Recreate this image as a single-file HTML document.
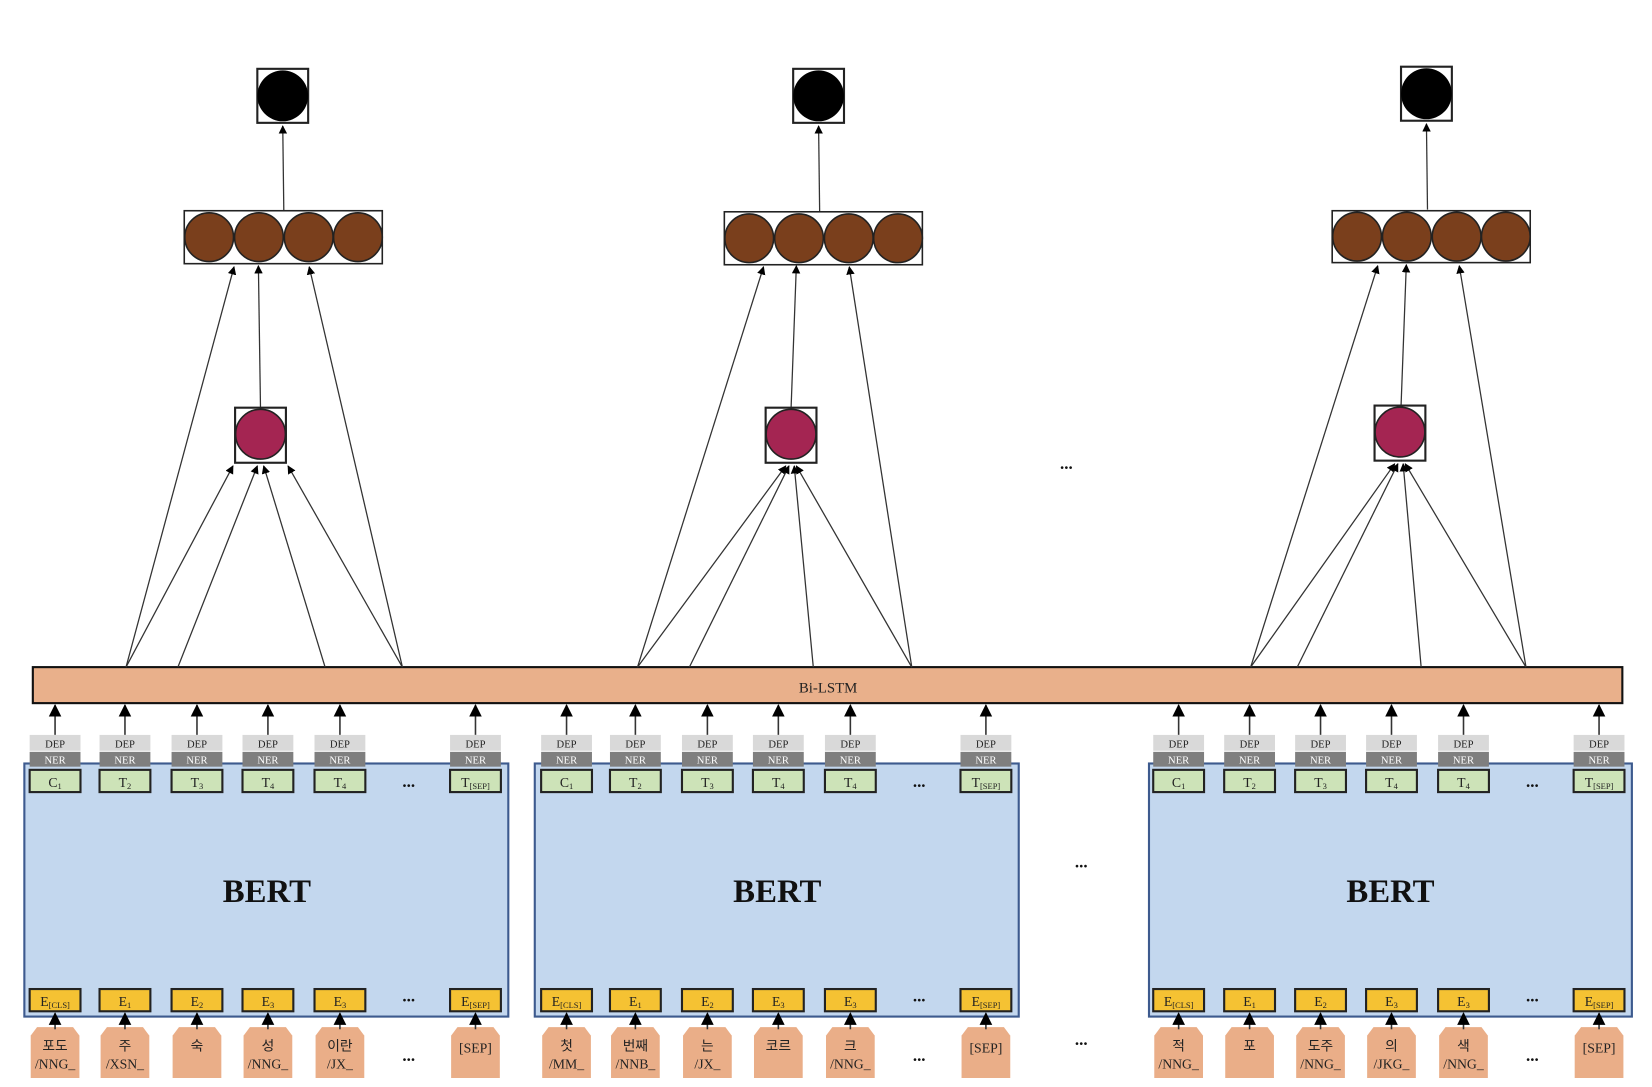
<!DOCTYPE html>
<html><head><meta charset="utf-8"><style>
html,body{margin:0;padding:0;background:#fff;}
svg{display:block;}
text{font-family:"Liberation Serif","Noto Serif CJK SC","Noto Sans CJK KR",serif;fill:#222;}
.s{font-size:10px;text-anchor:middle;}
.w{fill:#fff;}
.m{font-size:13px;text-anchor:middle;}
.k{font-family:"Liberation Serif","Noto Sans CJK KR",serif;font-size:13px;text-anchor:middle;}
.b{font-size:31px;font-weight:bold;text-anchor:middle;fill:#111;}
.d{font-size:16px;font-weight:bold;text-anchor:middle;fill:#111;}
</style></head><body>
<svg width="1652" height="1087" viewBox="0 0 1560 1026.5" preserveAspectRatio="none" xmlns="http://www.w3.org/2000/svg">
<defs>
<marker id="a" viewBox="0 0 10 10" refX="9" refY="5" markerWidth="8" markerHeight="8" orient="auto" markerUnits="userSpaceOnUse"><path d="M0,0L10,5L0,10Z" fill="#000"/></marker>
<marker id="A" viewBox="0 0 10 10" refX="9" refY="5" markerWidth="12" markerHeight="12" orient="auto" markerUnits="userSpaceOnUse"><path d="M0,0L10,5L0,10Z" fill="#000"/></marker>
<g id="col">
<line x1="0" y1="694" x2="0" y2="666" stroke="#333" stroke-width="1.5" marker-end="url(#A)"/>
<rect x="-24" y="694" width="48" height="15" fill="#d9d9d9"/>
<rect x="-24" y="710" width="48" height="14" fill="#7f7f7f"/>
<rect x="-24" y="727" width="48" height="21" fill="#cde3b8" stroke="#222" stroke-width="2"/>
<rect x="-24" y="934" width="48" height="21" fill="#f5c233" stroke="#222" stroke-width="2"/>
<path d="M-23,978L-17,970L17,970L23,978L23,1018L-23,1018Z" fill="#eaae88"/>
<line x1="0" y1="972" x2="0" y2="957" stroke="#333" stroke-width="1.5" marker-end="url(#A)"/>
</g>
<g id="top">
<rect x="-24" y="0" width="48" height="51" fill="#fff" stroke="#222" stroke-width="2"/>
<circle cx="0" cy="25.5" r="24" fill="#000"/>
</g>
</defs>

<!-- BERT boxes -->
<rect x="23" y="721" width="457" height="239" fill="#c3d7ee" stroke="#3d5a8e" stroke-width="2"/>
<rect x="505" y="721" width="457" height="239" fill="#c3d7ee" stroke="#3d5a8e" stroke-width="2"/>
<rect x="1085" y="721" width="456" height="239" fill="#c3d7ee" stroke="#3d5a8e" stroke-width="2"/>
<text class="b" x="252" y="852">BERT</text>
<text class="b" x="734" y="852">BERT</text>
<text class="b" x="1313" y="852">BERT</text>

<!-- Bi-LSTM -->
<rect x="31" y="630" width="1501" height="34" fill="#e9b08b" stroke="#111" stroke-width="2"/>
<text x="782" y="654" style="font-size:14px;text-anchor:middle;">Bi-LSTM</text>

<!-- columns -->
<use href="#col" x="52"/><use href="#col" x="118"/><use href="#col" x="186"/><use href="#col" x="253"/><use href="#col" x="321"/><use href="#col" x="449"/>
<use href="#col" x="535"/><use href="#col" x="600"/><use href="#col" x="668"/><use href="#col" x="735"/><use href="#col" x="803"/><use href="#col" x="931"/>
<use href="#col" x="1113"/><use href="#col" x="1180"/><use href="#col" x="1247"/><use href="#col" x="1314"/><use href="#col" x="1382"/><use href="#col" x="1510"/>

<!-- DEP/NER labels -->
<g class="s">
<text class="s" x="52" y="706">DEP</text><text class="s" x="118" y="706">DEP</text><text class="s" x="186" y="706">DEP</text><text class="s" x="253" y="706">DEP</text><text class="s" x="321" y="706">DEP</text><text class="s" x="449" y="706">DEP</text>
<text class="s" x="535" y="706">DEP</text><text class="s" x="600" y="706">DEP</text><text class="s" x="668" y="706">DEP</text><text class="s" x="735" y="706">DEP</text><text class="s" x="803" y="706">DEP</text><text class="s" x="931" y="706">DEP</text>
<text class="s" x="1113" y="706">DEP</text><text class="s" x="1180" y="706">DEP</text><text class="s" x="1247" y="706">DEP</text><text class="s" x="1314" y="706">DEP</text><text class="s" x="1382" y="706">DEP</text><text class="s" x="1510" y="706">DEP</text>
<text class="s w" x="52" y="721">NER</text><text class="s w" x="118" y="721">NER</text><text class="s w" x="186" y="721">NER</text><text class="s w" x="253" y="721">NER</text><text class="s w" x="321" y="721">NER</text><text class="s w" x="449" y="721">NER</text>
<text class="s w" x="535" y="721">NER</text><text class="s w" x="600" y="721">NER</text><text class="s w" x="668" y="721">NER</text><text class="s w" x="735" y="721">NER</text><text class="s w" x="803" y="721">NER</text><text class="s w" x="931" y="721">NER</text>
<text class="s w" x="1113" y="721">NER</text><text class="s w" x="1180" y="721">NER</text><text class="s w" x="1247" y="721">NER</text><text class="s w" x="1314" y="721">NER</text><text class="s w" x="1382" y="721">NER</text><text class="s w" x="1510" y="721">NER</text>
</g>

<!-- T labels -->
<text class="m" x="52" y="743">C<tspan font-size="8" dy="2">1</tspan></text><text class="m" x="118" y="743">T<tspan font-size="8" dy="2">2</tspan></text><text class="m" x="186" y="743">T<tspan font-size="8" dy="2">3</tspan></text><text class="m" x="253" y="743">T<tspan font-size="8" dy="2">4</tspan></text><text class="m" x="321" y="743">T<tspan font-size="8" dy="2">4</tspan></text><text class="m" x="449" y="743">T<tspan font-size="8" dy="2">[SEP]</tspan></text>
<text class="m" x="535" y="743">C<tspan font-size="8" dy="2">1</tspan></text><text class="m" x="600" y="743">T<tspan font-size="8" dy="2">2</tspan></text><text class="m" x="668" y="743">T<tspan font-size="8" dy="2">3</tspan></text><text class="m" x="735" y="743">T<tspan font-size="8" dy="2">4</tspan></text><text class="m" x="803" y="743">T<tspan font-size="8" dy="2">4</tspan></text><text class="m" x="931" y="743">T<tspan font-size="8" dy="2">[SEP]</tspan></text>
<text class="m" x="1113" y="743">C<tspan font-size="8" dy="2">1</tspan></text><text class="m" x="1180" y="743">T<tspan font-size="8" dy="2">2</tspan></text><text class="m" x="1247" y="743">T<tspan font-size="8" dy="2">3</tspan></text><text class="m" x="1314" y="743">T<tspan font-size="8" dy="2">4</tspan></text><text class="m" x="1382" y="743">T<tspan font-size="8" dy="2">4</tspan></text><text class="m" x="1510" y="743">T<tspan font-size="8" dy="2">[SEP]</tspan></text>

<!-- E labels -->
<text class="m" x="52" y="950">E<tspan font-size="8" dy="2">[CLS]</tspan></text><text class="m" x="118" y="950">E<tspan font-size="8" dy="2">1</tspan></text><text class="m" x="186" y="950">E<tspan font-size="8" dy="2">2</tspan></text><text class="m" x="253" y="950">E<tspan font-size="8" dy="2">3</tspan></text><text class="m" x="321" y="950">E<tspan font-size="8" dy="2">3</tspan></text><text class="m" x="449" y="950">E<tspan font-size="8" dy="2">[SEP]</tspan></text>
<text class="m" x="535" y="950">E<tspan font-size="8" dy="2">[CLS]</tspan></text><text class="m" x="600" y="950">E<tspan font-size="8" dy="2">1</tspan></text><text class="m" x="668" y="950">E<tspan font-size="8" dy="2">2</tspan></text><text class="m" x="735" y="950">E<tspan font-size="8" dy="2">3</tspan></text><text class="m" x="803" y="950">E<tspan font-size="8" dy="2">3</tspan></text><text class="m" x="931" y="950">E<tspan font-size="8" dy="2">[SEP]</tspan></text>
<text class="m" x="1113" y="950">E<tspan font-size="8" dy="2">[CLS]</tspan></text><text class="m" x="1180" y="950">E<tspan font-size="8" dy="2">1</tspan></text><text class="m" x="1247" y="950">E<tspan font-size="8" dy="2">2</tspan></text><text class="m" x="1314" y="950">E<tspan font-size="8" dy="2">3</tspan></text><text class="m" x="1382" y="950">E<tspan font-size="8" dy="2">3</tspan></text><text class="m" x="1510" y="950">E<tspan font-size="8" dy="2">[SEP]</tspan></text>

<!-- input tags -->
<text class="k" x="52" y="992">포도</text><text class="k" x="52" y="1009">/NNG_</text>
<text class="k" x="118" y="992">주</text><text class="k" x="118" y="1009">/XSN_</text>
<text class="k" x="186" y="992">숙</text>
<text class="k" x="253" y="992">성</text><text class="k" x="253" y="1009">/NNG_</text>
<text class="k" x="321" y="992">이란</text><text class="k" x="321" y="1009">/JX_</text>
<text class="k" x="449" y="994">[SEP]</text>
<text class="k" x="535" y="992">첫</text><text class="k" x="535" y="1009">/MM_</text>
<text class="k" x="600" y="992">번째</text><text class="k" x="600" y="1009">/NNB_</text>
<text class="k" x="668" y="992">는</text><text class="k" x="668" y="1009">/JX_</text>
<text class="k" x="735" y="992">코르</text>
<text class="k" x="803" y="992">크</text><text class="k" x="803" y="1009">/NNG_</text>
<text class="k" x="931" y="994">[SEP]</text>
<text class="k" x="1113" y="992">적</text><text class="k" x="1113" y="1009">/NNG_</text>
<text class="k" x="1180" y="992">포</text>
<text class="k" x="1247" y="992">도주</text><text class="k" x="1247" y="1009">/NNG_</text>
<text class="k" x="1314" y="992">의</text><text class="k" x="1314" y="1009">/JKG_</text>
<text class="k" x="1382" y="992">색</text><text class="k" x="1382" y="1009">/NNG_</text>
<text class="k" x="1510" y="994">[SEP]</text>

<!-- ellipses -->
<text class="d" x="386" y="743">...</text><text class="d" x="386" y="946">...</text><text class="d" x="386" y="1002">...</text>
<text class="d" x="868" y="743">...</text><text class="d" x="868" y="946">...</text><text class="d" x="868" y="1002">...</text>
<text class="d" x="1447" y="743">...</text><text class="d" x="1447" y="946">...</text><text class="d" x="1447" y="1002">...</text>
<text class="d" x="1021" y="819">...</text><text class="d" x="1021" y="987">...</text><text class="d" x="1007" y="443">...</text>

<!-- top structures -->
<g stroke="#333" stroke-width="1.2" fill="none">
<!-- group1 -->
<line x1="119" y1="630" x2="221" y2="252" marker-end="url(#a)"/>
<line x1="380" y1="630" x2="292" y2="252" marker-end="url(#a)"/>
<line x1="246" y1="386" x2="244" y2="251" marker-end="url(#a)"/>
<line x1="119" y1="630" x2="220" y2="440" marker-end="url(#a)"/>
<line x1="168" y1="630" x2="243" y2="440" marker-end="url(#a)"/>
<line x1="307" y1="630" x2="249" y2="440" marker-end="url(#a)"/>
<line x1="380" y1="630" x2="272" y2="440" marker-end="url(#a)"/>
<line x1="268" y1="199" x2="267" y2="119" marker-end="url(#a)"/>
<!-- group2 -->
<line x1="602" y1="630" x2="721" y2="252" marker-end="url(#a)"/>
<line x1="861" y1="630" x2="802" y2="252" marker-end="url(#a)"/>
<line x1="747" y1="386" x2="752" y2="251" marker-end="url(#a)"/>
<line x1="602" y1="630" x2="742" y2="440" marker-end="url(#a)"/>
<line x1="651" y1="630" x2="745" y2="440" marker-end="url(#a)"/>
<line x1="768" y1="630" x2="750" y2="440" marker-end="url(#a)"/>
<line x1="861" y1="630" x2="752" y2="440" marker-end="url(#a)"/>
<line x1="774" y1="200" x2="773" y2="119" marker-end="url(#a)"/>
<!-- group3 -->
<line x1="1181" y1="630" x2="1301" y2="251" marker-end="url(#a)"/>
<line x1="1441" y1="630" x2="1378" y2="251" marker-end="url(#a)"/>
<line x1="1323" y1="384" x2="1328" y2="250" marker-end="url(#a)"/>
<line x1="1181" y1="630" x2="1317" y2="438" marker-end="url(#a)"/>
<line x1="1225" y1="630" x2="1320" y2="438" marker-end="url(#a)"/>
<line x1="1342" y1="630" x2="1325" y2="438" marker-end="url(#a)"/>
<line x1="1441" y1="630" x2="1327" y2="438" marker-end="url(#a)"/>
<line x1="1348" y1="198" x2="1347" y2="117" marker-end="url(#a)"/>
</g>

<!-- output squares -->
<use href="#top" x="267" y="65"/>
<use href="#top" x="773" y="65"/>
<use href="#top" x="1347" y="63"/>

<!-- brown boxes -->
<g stroke="#222" stroke-width="1.5">
<rect x="174" y="199" width="187" height="50" fill="#fff"/>
<circle cx="197.5" cy="224" r="23" fill="#7a3f1c"/><circle cx="244.5" cy="224" r="23" fill="#7a3f1c"/><circle cx="291.5" cy="224" r="23" fill="#7a3f1c"/><circle cx="338" cy="224" r="23" fill="#7a3f1c"/>
<rect x="684" y="200" width="187" height="50" fill="#fff"/>
<circle cx="707.5" cy="225" r="23" fill="#7a3f1c"/><circle cx="754.5" cy="225" r="23" fill="#7a3f1c"/><circle cx="801.5" cy="225" r="23" fill="#7a3f1c"/><circle cx="848" cy="225" r="23" fill="#7a3f1c"/>
<rect x="1258" y="199" width="187" height="49" fill="#fff"/>
<circle cx="1281.5" cy="223.5" r="23" fill="#7a3f1c"/><circle cx="1328.5" cy="223.5" r="23" fill="#7a3f1c"/><circle cx="1375.5" cy="223.5" r="23" fill="#7a3f1c"/><circle cx="1422" cy="223.5" r="23" fill="#7a3f1c"/>
</g>

<!-- pink nodes -->
<g stroke="#222" stroke-width="1.5">
<rect x="222" y="385" width="48" height="52" fill="#fff" stroke-width="2"/><circle cx="246" cy="410" r="23.5" fill="#a42552"/>
<rect x="723" y="385" width="48" height="52" fill="#fff" stroke-width="2"/><circle cx="747" cy="410" r="23.5" fill="#a42552"/>
<rect x="1298" y="383" width="48" height="52" fill="#fff" stroke-width="2"/><circle cx="1322" cy="408" r="23.5" fill="#a42552"/>
</g>
</svg>
</body></html>
